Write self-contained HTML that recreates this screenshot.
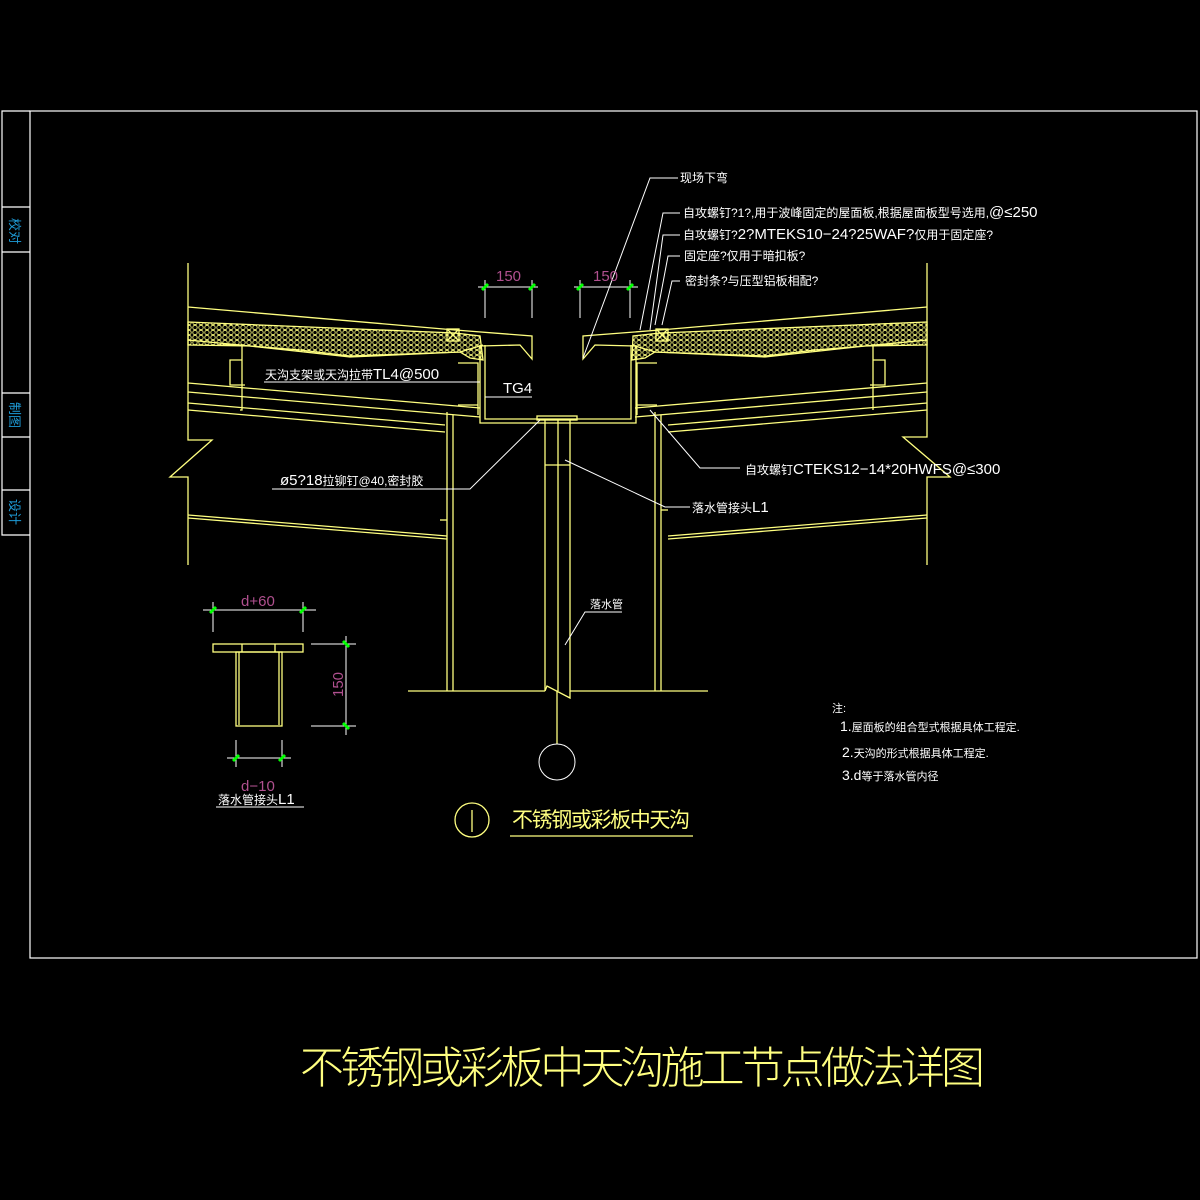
<!DOCTYPE html>
<html><head><meta charset="utf-8"><style>
html,body{margin:0;padding:0;background:#000;}
svg{display:block}
text{font-family:"Liberation Sans","Noto Sans CJK SC",sans-serif;}
</style></head><body>
<svg width="1200" height="1200" viewBox="0 0 1200 1200" xmlns="http://www.w3.org/2000/svg">
<defs>
<pattern id="hx" width="6" height="5" patternUnits="userSpaceOnUse">
<circle cx="3" cy="2.5" r="2.2" fill="none" stroke="#ffff80" stroke-width="0.8"/>
</pattern>
</defs>
<rect width="1200" height="1200" fill="#000"/>
<!-- frame -->
<g stroke="#fff" stroke-width="1.2" fill="none">
<rect x="30" y="111" width="1167" height="847"/>
<polyline points="30,111 2,111 2,535 30,535"/>
<line x1="2" y1="207" x2="30" y2="207"/><line x1="2" y1="252" x2="30" y2="252"/>
<line x1="2" y1="393" x2="30" y2="393"/><line x1="2" y1="437" x2="30" y2="437"/>
<line x1="2" y1="490" x2="30" y2="490"/>
</g>
<g fill="#1e9bd7" font-size="13">
<text transform="translate(10,218) rotate(90)">校对</text>
<text transform="translate(10,402) rotate(90)">制图</text>
<text transform="translate(10,499) rotate(90)">设计</text>
</g>
<g stroke="#ffff80" stroke-width="1.3" fill="none">
<!-- walls -->
<polyline points="188,263 188,440 212,440 170,477 188,477 188,565"/>
<polyline points="927,263 927,437 903,437 950,477 927,477 927,565"/>
<!-- left roof -->
<polyline points="188,307 455,330 532,336 532,359 520,345 480,346"/>
<polygon points="188,322 455,333 480,336 483,360 470,358 460,352 350,357 250,346 188,345" fill="url(#hx)"/>
<polyline points="188,340 250,346 300,350 350,356 460,352 483,345"/>
<line x1="188" y1="383" x2="480" y2="408"/>
<line x1="188" y1="392" x2="480" y2="417"/>
<line x1="188" y1="403" x2="445" y2="425"/>
<line x1="188" y1="410" x2="445" y2="432"/>
<line x1="188" y1="515" x2="447" y2="536"/>
<line x1="188" y1="518" x2="447" y2="539"/>
<rect x="447" y="329" width="12" height="12"/>
<line x1="447" y1="329" x2="459" y2="341"/><line x1="459" y1="329" x2="447" y2="341"/>
<polyline points="220,345 242,345 242,410 240,410"/><polyline points="242,360 230,360 230,385 245,385"/>
<polyline points="458,363 478,363 478,415"/><polyline points="458,405 478,405"/>
<!-- right roof -->
<polyline points="927,307 660,330 583,336 583,359 595,345 635,346"/>
<polygon points="927,322 660,333 633,336 632,360 645,358 655,352 765,357 865,346 927,345" fill="url(#hx)"/>
<polyline points="927,340 865,346 815,350 765,356 655,352 632,345"/>
<line x1="927" y1="383" x2="635" y2="408"/>
<line x1="927" y1="392" x2="635" y2="417"/>
<line x1="927" y1="403" x2="668" y2="425"/>
<line x1="927" y1="410" x2="668" y2="432"/>
<line x1="927" y1="515" x2="668" y2="536"/>
<line x1="927" y1="518" x2="668" y2="539"/>
<rect x="656" y="329" width="12" height="12"/>
<line x1="656" y1="329" x2="668" y2="341"/><line x1="668" y1="329" x2="656" y2="341"/>
<polyline points="895,345 873,345 873,410"/><polyline points="873,360 885,360 885,385 870,385"/>
<polyline points="657,363 637,363 637,415"/><polyline points="657,405 637,405"/>
<!-- gutter -->
<polyline points="480,345 480,423 636,423 636,345"/>
<polyline points="485,345 485,419 631,419 631,345"/>
<!-- columns -->
<line x1="447" y1="412" x2="447" y2="691"/><line x1="453" y1="415" x2="453" y2="691"/>
<line x1="655" y1="412" x2="655" y2="691"/><line x1="661" y1="415" x2="661" y2="691"/>
<line x1="661" y1="510" x2="668" y2="510"/><line x1="447" y1="520" x2="440" y2="520"/>
<!-- pipe -->
<line x1="545" y1="420" x2="545" y2="691"/><line x1="558" y1="420" x2="558" y2="691"/><line x1="570" y1="420" x2="570" y2="691"/>
<polyline points="545,465 570,465"/>
<polyline points="408,691 545,691"/><polyline points="570,691 708,691"/>
<polyline points="545,691 547,686 570,698 570,691"/>
<line x1="557" y1="691" x2="557" y2="744"/>
<rect x="537" y="416" width="40" height="4"/>
<!-- detail L1 -->
<rect x="213" y="644" width="90" height="8"/>
<line x1="242" y1="644" x2="242" y2="652"/><line x1="275" y1="644" x2="275" y2="652"/>
<rect x="236" y="652" width="46" height="74"/>
<line x1="239" y1="652" x2="239" y2="725"/><line x1="279" y1="652" x2="279" y2="725"/>
<circle cx="472" cy="820" r="17"/>
<line x1="472" y1="810" x2="472" y2="832"/>
<line x1="510" y1="836" x2="693" y2="836"/>
</g>
<!-- white leaders -->
<g stroke="#fff" stroke-width="1" fill="none">
<circle cx="557" cy="762" r="18"/>
<polyline points="678,178 650,178 583,358"/>
<polyline points="680,213 663,213 640,330"/>
<polyline points="680,235 663,235 650,330"/>
<polyline points="680,256 668,256 655,325"/>
<polyline points="680,281 672,281 662,325"/>
<polyline points="264,382 480,382"/>
<polyline points="485,397 532,397"/>
<polyline points="272,489 470,489 540,420"/>
<polyline points="740,468 700,468 650,410"/>
<polyline points="690,507 665,507 565,460"/>
<polyline points="622,612 585,612 565,645"/>
<line x1="216" y1="807" x2="304" y2="807"/>
<!-- dims -->
<line x1="478" y1="287" x2="538" y2="287"/><line x1="485" y1="280" x2="485" y2="318"/><line x1="532" y1="280" x2="532" y2="318"/>
<line x1="574" y1="287" x2="638" y2="287"/><line x1="580" y1="280" x2="580" y2="318"/><line x1="630" y1="280" x2="630" y2="318"/>
<line x1="203" y1="610" x2="316" y2="610"/><line x1="213" y1="602" x2="213" y2="632"/><line x1="303" y1="602" x2="303" y2="632"/>
<line x1="346" y1="636" x2="346" y2="735"/><line x1="311" y1="644" x2="356" y2="644"/><line x1="311" y1="726" x2="356" y2="726"/>
<line x1="227" y1="758" x2="291" y2="758"/><line x1="236" y1="740" x2="236" y2="767"/><line x1="282" y1="740" x2="282" y2="767"/>
</g>
<g stroke="#00ff00" stroke-width="3">
<line x1="482" y1="290" x2="488" y2="284"/><line x1="529" y1="290" x2="535" y2="284"/>
<line x1="577" y1="290" x2="583" y2="284"/><line x1="627" y1="290" x2="633" y2="284"/>
<line x1="210" y1="613" x2="216" y2="607"/><line x1="300" y1="613" x2="306" y2="607"/>
<line x1="343" y1="641" x2="349" y2="647"/><line x1="343" y1="723" x2="349" y2="729"/>
<line x1="233" y1="761" x2="239" y2="755"/><line x1="279" y1="761" x2="285" y2="755"/>
</g>
<g fill="#b0508f" font-size="15">
<text x="496" y="281">150</text><text x="593" y="281">150</text>
<text x="241" y="606">d+60</text><text x="241" y="791">d−10</text>
<text transform="translate(343,697) rotate(-90)">150</text>
</g>
<g fill="#fff" font-size="12">
<text x="680" y="182">现场下弯</text>
<text x="683" y="217">自攻螺钉?1?,用于波峰固定的屋面板,根据屋面板型号选用,<tspan font-size="15">@≤250</tspan></text>
<text x="683" y="239">自攻螺钉?<tspan font-size="15">2?MTEKS10−24?25WAF?</tspan>仅用于固定座?</text>
<text x="684" y="260">固定座?仅用于暗扣板?</text>
<text x="685" y="285">密封条?与压型铝板相配?</text>
<text x="265" y="379">天沟支架或天沟拉带<tspan font-size="15">TL4@500</tspan></text>
<text x="503" y="393" font-size="15">TG4</text>
<text x="280" y="485"><tspan font-size="15">ø5?18</tspan>拉铆钉@40,密封胶</text>
<text x="745" y="474">自攻螺钉<tspan font-size="15">CTEKS12−14*20HWFS@≤300</tspan></text>
<text x="692" y="512">落水管接头<tspan font-size="15">L1</tspan></text>
<text x="590" y="608" font-size="11">落水管</text>
<text x="218" y="804">落水管接头<tspan font-size="15">L1</tspan></text>
<text x="832" y="712" font-size="11">注:</text>
<text x="840" y="731" font-size="11"><tspan font-size="14">1.</tspan>屋面板的组合型式根据具体工程定.</text>
<text x="842" y="757" font-size="11"><tspan font-size="14">2.</tspan>天沟的形式根据具体工程定.</text>
<text x="842" y="780" font-size="11"><tspan font-size="14">3.d</tspan>等于落水管内径</text>
</g>
<text x="512" y="827" fill="#ffff80" font-size="21" textLength="178">不锈钢或彩板中天沟</text>
<text x="300" y="1083" fill="#ffff80" font-size="44" font-family="'Noto Serif CJK SC',serif" textLength="685" font-weight="200">不锈钢或彩板中天沟施工节点做法详图</text>
</svg>
</body></html>
